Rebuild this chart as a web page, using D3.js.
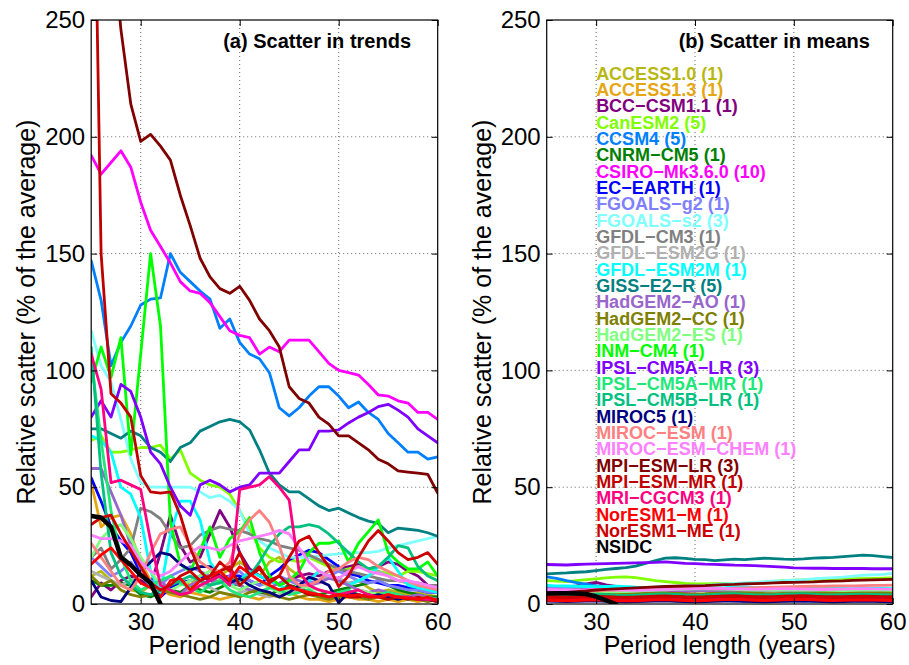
<!DOCTYPE html>
<html>
<head>
<meta charset="utf-8" />
<title>Relative scatter</title>
<script src="https://cdn.jsdelivr.net/npm/d3@7"></script>
<style>
  body { margin: 0; padding: 0; background: #fff; }
  text { font-family: "Liberation Sans", Arial, Helvetica, sans-serif; fill: #000; }
  .grid { stroke: #666; stroke-width: 1; stroke-dasharray: 1,3; }
  .series { fill: none; stroke-linejoin: round; stroke-linecap: round; }
</style>
</head>
<body>
<script>

// period lengths (years)
var years = [25,26,27,28,29,30,31,32,33,34,35,36,37,38,39,40,41,42,
             43,44,45,46,47,48,49,50,51,52,53,54,55,56,57,58,59,60];

var models = ["ACCESS1.0 (1)","ACCESS1.3 (1)","BCC\u2212CSM1.1 (1)","CanESM2 (5)","CCSM4 (5)",
  "CNRM\u2212CM5 (1)","CSIRO\u2212Mk3.6.0 (10)","EC\u2212EARTH (1)","FGOALS\u2212g2 (1)","FGOALS\u2212s2 (3)",
  "GFDL\u2212CM3 (1)","GFDL\u2212ESM2G (1)","GFDL\u2212ESM2M (1)","GISS\u2212E2\u2212R (5)","HadGEM2\u2212AO (1)",
  "HadGEM2\u2212CC (1)","HadGEM2\u2212ES (1)","INM\u2212CM4 (1)","IPSL\u2212CM5A\u2212LR (3)","IPSL\u2212CM5A\u2212MR (1)",
  "IPSL\u2212CM5B\u2212LR (1)","MIROC5 (1)","MIROC\u2212ESM (1)","MIROC\u2212ESM\u2212CHEM (1)","MPI\u2212ESM\u2212LR (3)",
  "MPI\u2212ESM\u2212MR (1)","MRI\u2212CGCM3 (1)","NorESM1\u2212M (1)","NorESM1\u2212ME (1)","NSIDC"];

var colors = ["#b8b814","#e6a512","#800080","#80ff00","#0080ff",
  "#008000","#ff00ff","#0000ff","#8080ff","#80ffff",
  "#808080","#b0b0b0","#00ffff","#008080","#9966cc",
  "#808000","#80ff80","#00ff00","#8000ff","#1ee878",
  "#00c080","#000080","#ff8080","#ff80ff","#800000",
  "#c00000","#ff0080","#ff0000","#cc0000","#000000"];

var xTicks = [30, 40, 50, 60];
var yTicks = [0, 50, 100, 150, 200, 250];

// (a) scatter in trends
var trACCESS10 = [12,14,10,8,6,5,8,4,6,10,8,12,14,12,15,18,15,12,18,20,15,12,10,14,12,10,8,10,7,5,6,5,4,5,4,3];
var trACCESS13 = [52,33,37,38,30,18,10,6,4,3,5,4,3,2,3,4,3,2,4,3,5,3,2,2,1,2,3,2,2,1,2,1,2,1,2,1];
var trBCC = [3,9,6,10,12,10,8,22,38,25,18,20,30,40,33,22,15,12,10,8,10,12,13,12,14,15,16,17,15,16,18,17,14,12,8,5];
var trCanESM2 = [70,72,65,65,66,67,67,68,62,66,56,53,51,50,47,40,32,24,20,18,19,18,20,18,16,14,15,16,15,14,13,12,14,14,13,12];
var trCCSM4 = [147,130,102,112,119,128,130.5,131,150,142,138,134,130.5,118,122,112,107,105,99,84,80.5,84,89,93,93,89,84,86.5,82,79,73,69,65,65,62,63];
var trCNRM = [10,8,8,9,8,4,3,5,6,5,8,6,5,7,9,8,6,5,4,6,8,7,5,4,5,6,7,8,9,10,8,6,5,4,3,3];
var trCSIRO = [192,184,189,194,187,172,160,153,146,138,134,133,129,123,117,115,114,107,110,108,113,113,113,108,103,100,99,98,94,89.5,89,87,86,82,82,79];
var trECEARTH = [54,44,33,27,22,13,8,3,7,9,10,12,10,11,12,12,10,8,12,15,19,21,23,22,19,16,13,12,10,9,8,8,7,6,5,5];
var trFGOALSg2 = [20,16,12,14,18,12,10,8,12,14,16,14,12,10,12,14,10,8,9,12,10,8,9,10,12,14,12,10,9,10,8,7,6,6,5,5];
var trFGOALSs2 = [117,102,95,79,62,52,50,50,50,50,50,48,45.5,46.5,44,40,30,27,24,22,20,20,20,20.5,21,21.5,22,22,22,22.5,24,25,26,27,28,29];
var trGFDLCM3 = [20,24,15,19,24,41,39.5,36.5,30,24,25,29.5,31.5,33,32,31.5,30,28,27,25,24,23,21,19,17,15,14,13,12,11,10,10,9,9,8,8];
var trGFDLESM2G = [14,12,10,8,10,12,8,6,5,4,6,8,7,5,4,5,6,4,3,4,5,6,8,10,12,11,9,10,12,14,12,10,9,8,7,6];
var trGFDLESM2M = [72,70,65,50,47,37,14,5,30,44,44,36,18,12,8,10,14,12,10,8,6,8,10,14,12,10,8,10,12,16,20,14,8,7,6,5];
var trGISS = [75,75,73,71,74,72,67,65,61,67,69,74,76,78,79,78,74.5,66,56,51,48,48,45,42,40,41,39,37,35.5,34.5,30.5,32.5,32,31.5,30.5,29];
var trHadAO = [58,58,48,38,25,15,8,10,6,4,8,10,8,12,10,8,6,5,7,9,11,10,8,9,11,10,8,6,5,6,5,4,3,4,3,2];
var trHadCC = [12,8,10,6,4,3,4,6,5,4,3,2,3,5,4,3,5,6,4,3,2,3,4,3,2,3,4,3,2,3,2,3,2,2,1,2];
var trHadES = [20,28,32,34,28,20,14,8,6,8,10,12,14,10,8,6,8,10,7,5,6,8,7,6,5,4,5,6,5,4,3,3,2,3,2,2];
var trINM = [95,110,97,114,64,107,150,119,35,17,14,23,33,20,28,31,37,22,12,8,10,14,22,26,26,27,18,26,31,36,22,18,15,15,18,12];
var trIPSLALR = [80,87,80,94,91,80,65,60,50,42,38,51,53,51,48,50,51,56,56,56,61,66,66,74,74,74.5,77.5,80,82,84.5,85.5,83,80,75,72,69];
var trIPSLAMR = [105,70,40,20,10,6,8,10,12,9,7,5,8,10,6,4,3,5,7,6,4,5,6,4,3,5,6,4,3,4,5,4,3,2,3,2];
var trIPSLBLR = [110,56,22,12,8,5,4,6,8,10,12,10,8,9,11,10,12,18,25,30,33,33,34,33,30,26,22,18,15,16,20,25,24,16,12,10];
var trMIROC5 = [10,3,1.5,1,7,14,18,22,21,17,14.5,16,16,12,9,11,8,6,5,3,5,8,11.5,10,8,0.5,5,4,3,4,3,2,3,2,2,1];
var trMIROCESM = [26,20,14,8,6,12,22,30,32,33,25,18,15,14,18,30,36,40,35,25,12,8,8,10,14,15,18,20,19,16,14,12,10,8,7,6];
var trMIROCCHEM = [29.5,28,28,27,25,18,14,12,14,18,22,24.5,24,23,25,27,28,29,30,31.5,30,24,18,14,12,11,14,16,14,13,12,10,10,9,8,7];
var trMPILR = [340,315,290,246,214,198,201,196,190,175,162,148,140,135,133,136,130,122,117,110,93,88,86,80,77,72,72,69,66,62,60,57,56.5,56,55.5,47.5];
var trMPIMR = [400,150,90,86,80,55,48,47.5,48,38,24,14,10,14,16,8,12,15,10,12,8,6,4,4,3,4,3,3,4,3,2,3,2,3,2,1];
var trMRI = [107,92,52,53,51,49,27,8,6,4,5,8,10,12,8,49,50,51,54.5,50,44.5,14,8,6,5,4,5,6,4,3,4,3,3,2,2,2];
var trNorM = [17,21,24,19,14,9,7,3,10,11,6,10,12,14,10,16,13,10,8,6,7,6,5,4,3,4,3.5,4,3,3,4,3,2.5,2,3,1.5];
var trNorME = [34,37,38,30,23,16,9,6,8,12,14,10,12,18,14,22,12,16,9,12,20,27,29,22,16,7.5,12,20,27,31.5,27,22,19,20,22,17];
var trNSIDC = [37.7,37,33,20,16.7,12.4,9,0,null,null,null,null,null,null,null,null,null,null,
               null,null,null,null,null,null,null,null,null,null,null,null,null,null,null,null,null,null];

// (b) scatter in means
var mnACCESS10 = [3.2,3.3,3.1,3.0,3.2,3.4,3.5,3.3,3.2,3.0,2.9,3.1,3.3,3.4,3.6,3.5,3.3,3.2,3.1,3.3,3.5,3.6,3.4,3.2,3.1,3.0,3.1,3.3,3.4,3.5,3.6,3.5,3.4,3.3,3.2,3.1];
var mnACCESS13 = [2.5,2.4,2.2,2.1,2.3,2.5,2.6,2.4,2.2,2.0,1.9,2.1,2.3,2.2,2.0,1.9,2.0,2.2,2.4,2.5,2.3,2.1,2.0,1.9,2.0,2.1,2.2,2.1,2.0,1.9,1.8,1.9,2.0,2.1,2.0,1.9];
var mnBCC = [6.5,6.8,7.2,7.8,8.6,9.3,8.2,7.5,7.0,6.8,6.6,6.4,6.3,6.2,6.4,6.5,6.3,6.1,6.0,6.2,6.4,6.5,6.3,6.0,5.8,5.9,6.1,6.2,6.0,5.8,5.7,5.8,5.9,6.0,5.9,5.8];
var mnCanESM2 = [10,9.8,9.6,10,10.4,10.8,11.2,11.5,11.6,11.3,10.6,10,9.6,9.2,8.8,8.6,8.6,8.7,8.8,8.8,8.9,9.1,9.4,9.7,10,10.2,10.3,10.4,10.5,10.6,10.7,10.8,10.9,11,11.1,11.2];
var mnCCSM4 = [11.6,11,10,9.2,8.5,7.8,7.5,7.3,7.2,7.1,7.0,6.9,6.7,6.6,6.5,6.4,6.3,6.3,6.2,6.2,6.1,6.1,6.0,6.0,5.9,5.9,5.9,5.8,5.8,5.8,5.7,5.7,5.7,5.6,5.6,5.6];
var mnCNRM = [3.6,3.5,3.4,3.5,3.7,3.8,3.6,3.5,3.4,3.3,3.4,3.6,3.8,3.9,3.7,3.5,3.4,3.5,3.6,3.8,4.0,4.1,3.9,3.7,3.6,3.5,3.6,3.8,4.0,4.2,4.3,4.2,4.1,4.0,4.1,4.2];
var mnCSIRO = [5.5,5.3,5.1,5.0,4.8,4.9,5.1,5.3,5.5,5.4,5.2,5.0,4.9,5.1,5.3,5.6,5.8,5.7,5.5,5.3,5.4,5.6,5.8,6.0,5.9,5.7,5.6,5.5,5.7,5.9,6.0,6.1,6.0,5.9,5.8,5.8];
var mnECEARTH = [1.8,1.7,1.6,1.5,1.6,1.8,1.9,1.7,1.5,1.4,1.5,1.7,1.8,1.6,1.4,1.3,1.5,1.7,1.6,1.4,1.2,1.3,1.5,1.6,1.4,1.3,1.2,1.4,1.5,1.6,1.5,1.4,1.3,1.4,1.5,1.4];
var mnFGOALSg2 = [7.5,7.3,7.0,6.8,6.5,6.4,6.2,6.0,5.9,5.8,5.7,5.8,5.9,6.0,6.1,6.0,5.9,5.8,5.7,5.6,5.5,5.4,5.5,5.6,5.7,5.6,5.5,5.4,5.3,5.2,5.1,5.0,5.1,5.2,5.3,5.2];
var mnFGOALSs2 = [5.0,5.1,5.3,5.6,5.6,5.8,6.1,6.2,6.3,6.6,6.9,7.0,7.3,7.6,7.7,7.9,8.0,8.3,8.7,8.8,9.0,9.2,9.5,9.9,10.0,10.2,10.4,10.8,11.1,11.3,11.5,11.9,12.3,12.5,12.7,13.1];
var mnGFDLCM3 = [6.2,6.0,5.9,6.1,6.3,6.5,6.4,6.2,6.0,5.9,6.1,6.3,6.4,6.2,6.0,5.8,5.9,6.1,6.3,6.5,6.6,6.4,6.2,6.0,5.9,6.1,6.3,6.4,6.2,6.0,5.8,5.9,6.0,6.1,6.0,5.9];
var mnGFDLESM2G = [4.2,4.1,4.0,4.2,4.4,4.5,4.3,4.1,4.0,3.9,4.0,4.2,4.3,4.1,3.9,3.8,3.9,4.1,4.3,4.4,4.2,4.0,3.9,4.0,4.2,4.4,4.5,4.3,4.1,4.0,4.1,4.2,4.3,4.2,4.1,4.0];
var mnGFDLESM2M = [8.0,7.8,7.7,7.6,7.5,7.4,7.5,7.6,7.4,7.2,7.1,7.2,7.4,7.5,7.3,7.1,7.0,6.9,7.0,7.2,7.3,7.1,6.9,6.8,6.7,6.8,6.9,7.0,6.9,6.8,6.7,6.6,6.7,6.8,6.7,6.6];
var mnGISS = [12.9,13.1,13.3,13.6,13.8,14.3,14.8,15.2,15.6,16.2,17.4,18.6,19.6,19.8,19.5,19.1,19.0,18.6,18.9,19.2,19.0,19.3,19.6,19.4,19.2,19.1,19.3,19.6,19.8,20.0,20.3,20.6,20.9,20.7,20.3,19.9];
var mnHadAO = [6.0,5.9,5.8,5.9,6.1,6.2,6.0,5.8,5.7,5.8,6.0,6.2,6.3,6.1,5.9,5.8,5.9,6.0,6.2,6.1,5.9,5.7,5.6,5.7,5.9,6.0,5.9,5.7,5.6,5.5,5.6,5.7,5.8,5.7,5.6,5.5];
var mnHadCC = [4.6,4.5,4.4,4.5,4.7,4.8,4.6,4.4,4.3,4.4,4.6,4.7,4.8,4.6,4.4,4.3,4.4,4.6,4.7,4.8,4.9,4.7,4.5,4.4,4.5,4.6,4.7,4.8,4.9,5.0,5.1,5.0,4.9,4.8,4.9,5.0];
var mnHadES = [5.4,5.3,5.2,5.3,5.4,5.5,5.3,5.2,5.3,5.5,5.7,5.9,6.1,6.3,6.4,6.5,6.6,6.5,6.4,6.3,6.1,6.0,5.9,5.8,5.9,6.0,6.1,6.0,5.9,5.8,5.7,5.8,5.9,6.0,5.9,5.8];
var mnINM = [3.0,2.9,2.8,2.9,3.1,3.2,3.0,2.8,2.7,2.8,3.0,3.2,3.3,3.1,2.9,2.8,2.9,3.1,3.3,3.4,3.2,3.0,2.9,3.0,3.2,3.3,3.4,3.2,3.0,2.9,3.0,3.1,3.2,3.1,3.0,2.9];
var mnIPSLALR = [16.9,16.8,16.7,16.9,17.1,17.2,17.3,17.4,17.5,17.6,17.7,17.8,18.0,17.7,17.4,17.3,17.1,17.0,16.8,16.6,16.5,16.4,16.2,16.0,15.8,15.5,15.4,15.3,15.3,15.2,15.2,15.2,15.2,15.1,15.1,15.1];
var mnIPSLAMR = [2.6,2.5,2.4,2.5,2.7,2.8,2.6,2.5,2.4,2.3,2.4,2.6,2.7,2.5,2.4,2.3,2.4,2.5,2.7,2.8,2.6,2.5,2.4,2.3,2.4,2.5,2.6,2.5,2.4,2.3,2.4,2.5,2.6,2.5,2.4,2.3];
var mnIPSLBLR = [4.0,3.9,3.8,3.9,4.1,4.2,4.0,3.8,3.7,3.8,4.0,4.2,4.3,4.1,3.9,3.8,3.9,4.1,4.3,4.4,4.2,4.0,3.9,4.0,4.2,4.3,4.4,4.2,4.0,3.9,4.0,4.1,4.2,4.1,4.0,3.9];
var mnMIROC5 = [1.2,1.1,1.0,1.1,1.2,1.3,1.1,1.0,0.9,1.0,1.1,1.2,1.3,1.1,1.0,0.9,1.0,1.1,1.2,1.3,1.1,1.0,0.9,1.0,1.1,1.2,1.3,1.1,1.0,0.9,1.0,1.1,1.2,1.1,1.0,0.9];
var mnMIROCESM = [5.5,5.4,5.3,5.2,5.4,5.6,5.8,5.9,6.1,6.4,6.6,6.8,7.0,7.1,7.0,6.8,6.6,6.5,6.6,6.8,6.9,7.0,7.1,7.2,7.3,7.4,7.5,7.6,7.6,7.7,7.8,7.8,7.9,8.0,8.0,8.1];
var mnMIROCCHEM = [6.2,6.1,6.0,5.9,6.0,6.2,6.3,6.1,5.9,5.8,5.9,6.1,6.3,6.4,6.5,6.7,6.8,6.7,6.6,6.5,6.4,6.3,6.4,6.5,6.6,6.5,6.4,6.3,6.2,6.3,6.4,6.5,6.6,6.5,6.4,6.3];
var mnMPILR = [4.6,4.8,5.0,5.3,5.6,6.0,6.3,6.5,6.7,6.9,7.1,7.3,7.5,7.6,7.7,7.8,7.9,8.1,8.3,8.4,8.6,8.7,8.8,9.0,9.2,9.3,9.4,9.5,9.7,9.8,9.9,10.1,10.2,10.3,10.4,10.5];
var mnMPIMR = [3.2,3.1,3.0,3.1,3.3,3.4,3.2,3.0,2.9,3.0,3.2,3.4,3.5,3.3,3.1,3.0,3.1,3.3,3.5,3.6,3.4,3.2,3.1,3.2,3.4,3.5,3.6,3.4,3.2,3.1,3.2,3.3,3.4,3.3,3.2,3.1];
var mnMRI = [2.4,2.3,2.2,2.3,2.5,2.6,2.4,2.2,2.1,2.2,2.4,2.6,2.7,2.5,2.3,2.2,2.3,2.5,2.7,2.8,2.6,2.4,2.3,2.4,2.6,2.7,2.8,2.6,2.4,2.3,2.4,2.5,2.6,2.5,2.4,2.3];
var mnNorM = [1.6,1.5,1.4,1.5,1.7,1.8,1.6,1.4,1.3,1.4,1.6,1.8,1.9,1.7,1.5,1.4,1.5,1.7,1.9,2.0,1.8,1.6,1.5,1.6,1.8,1.9,2.0,1.8,1.6,1.5,1.6,1.7,1.8,1.7,1.6,1.5];
var mnNorME = [2.8,2.7,2.6,2.7,2.9,3.0,2.8,2.6,2.5,2.6,2.8,3.0,3.1,2.9,2.7,2.6,2.7,2.9,3.1,3.2,3.0,2.8,2.7,2.8,3.0,3.1,3.2,3.0,2.8,2.7,2.8,2.9,3.0,2.9,2.8,2.7];
var mnNSIDC = [4.5,4.6,4.6,4.5,4.3,3.2,1.6,0,null,null,null,null,null,null,null,null,null,null,
               null,null,null,null,null,null,null,null,null,null,null,null,null,null,null,null,null,null];

var trends = [trACCESS10,trACCESS13,trBCC,trCanESM2,trCCSM4,trCNRM,trCSIRO,trECEARTH,trFGOALSg2,trFGOALSs2,
  trGFDLCM3,trGFDLESM2G,trGFDLESM2M,trGISS,trHadAO,trHadCC,trHadES,trINM,trIPSLALR,trIPSLAMR,
  trIPSLBLR,trMIROC5,trMIROCESM,trMIROCCHEM,trMPILR,trMPIMR,trMRI,trNorM,trNorME,trNSIDC];
var means = [mnACCESS10,mnACCESS13,mnBCC,mnCanESM2,mnCCSM4,mnCNRM,mnCSIRO,mnECEARTH,mnFGOALSg2,mnFGOALSs2,
  mnGFDLCM3,mnGFDLESM2G,mnGFDLESM2M,mnGISS,mnHadAO,mnHadCC,mnHadES,mnINM,mnIPSLALR,mnIPSLAMR,
  mnIPSLBLR,mnMIROC5,mnMIROCESM,mnMIROCCHEM,mnMPILR,mnMPIMR,mnMRI,mnNorM,mnNorME,mnNSIDC];

var width = 909, height = 665,
    plotTop = 20, plotBottom = 604;

var svg = d3.select("body").append("svg")
    .attr("width", width)
    .attr("height", height);

function drawPanel(left, right, data, title, legend) {
  var x = d3.scaleLinear().domain([25, 60]).range([left, right]);
  var y = d3.scaleLinear().domain([0, 250]).range([plotBottom, plotTop]);
  var g = svg.append("g");
  var clipId = "clip" + Math.round(left);

  g.append("clipPath").attr("id", clipId)
    .append("rect")
      .attr("x", left).attr("y", plotTop)
      .attr("width", right - left).attr("height", plotBottom - plotTop);

  // dotted grid
  g.selectAll(".gx").data(xTicks.slice(0, -1)).enter().append("line")
      .attr("class", "grid")
      .attr("x1", function(d) { return x(d); }).attr("x2", function(d) { return x(d); })
      .attr("y1", plotTop).attr("y2", plotBottom);
  g.selectAll(".gy").data(yTicks.slice(1, -1)).enter().append("line")
      .attr("class", "grid")
      .attr("y1", function(d) { return y(d); }).attr("y2", function(d) { return y(d); })
      .attr("x1", left).attr("x2", right);

  var line = d3.line()
      .defined(function(d) { return d[1] !== null; })
      .x(function(d) { return x(d[0]); })
      .y(function(d) { return y(d[1]); });

  g.append("g").attr("clip-path", "url(#" + clipId + ")")
    .selectAll("path")
      .data(data)
    .enter().append("path")
      .attr("class", "series")
      .attr("d", function(s) { return line(years.map(function(yr, j) { return [yr, s[j]]; })); })
      .style("stroke", function(s, i) { return colors[i]; })
      .style("stroke-width", function(s, i) { return i === models.length - 1 ? 4.5 : 2.8; });

  // axes, ticks inward on all four sides
  var ax = g.append("g").attr("transform", "translate(0," + plotBottom + ")")
      .call(d3.axisBottom(x).tickValues(xTicks).tickFormat(d3.format("d"))
        .tickSizeInner(-6).tickSizeOuter(0).tickPadding(9));
  var ay = g.append("g").attr("transform", "translate(" + left + ",0)")
      .call(d3.axisLeft(y).tickValues(yTicks).tickFormat(d3.format("d"))
        .tickSizeInner(-6).tickSizeOuter(0).tickPadding(6));
  g.append("g").attr("transform", "translate(0," + plotTop + ")")
      .call(d3.axisTop(x).tickValues(xTicks).tickFormat("").tickSizeInner(-6).tickSizeOuter(0));
  g.append("g").attr("transform", "translate(" + right + ",0)")
      .call(d3.axisRight(y).tickValues(yTicks).tickFormat("").tickSizeInner(-6).tickSizeOuter(0));

  g.selectAll(".domain").remove();
  g.selectAll(".tick line").attr("stroke", "#000");
  [ax, ay].forEach(function(a) {
    a.attr("font-family", null).attr("font-size", null);
    a.selectAll("text").style("font-size", "24px").attr("fill", "#000");
  });

  g.append("rect")
      .attr("x", left).attr("y", plotTop)
      .attr("width", right - left).attr("height", plotBottom - plotTop)
      .attr("fill", "none").attr("stroke", "#000").attr("stroke-width", 1.2);

  g.append("text")
      .attr("x", left + 132).attr("y", 48)
      .style("font-size", "20px").style("font-weight", "bold")
      .text(title);

  g.append("text")
      .attr("transform", "translate(" + (left - 56) + "," + ((plotTop + plotBottom) / 2) + ") rotate(-90)")
      .attr("text-anchor", "middle")
      .style("font-size", "25px")
      .text("Relative scatter (% of the average)");

  g.append("text")
      .attr("x", (left + right) / 2).attr("y", 654)
      .attr("text-anchor", "middle")
      .style("font-size", "25px")
      .text("Period length (years)");

  if (legend) {
    g.selectAll(".legend").data(models).enter().append("text")
        .attr("class", "legend")
        .attr("x", x(30))
        .attr("y", function(d, i) { return 79.6 + i * 16.33; })
        .style("font-size", "18px").style("font-weight", "bold")
        .style("fill", function(d, i) { return colors[i]; })
        .text(function(d) { return d; });
  }
}

drawPanel(91.2, 437.7, trends, "(a) Scatter in trends", false);
drawPanel(546.7, 892.7, means, "(b) Scatter in means", true);

</script>
</body>
</html>
